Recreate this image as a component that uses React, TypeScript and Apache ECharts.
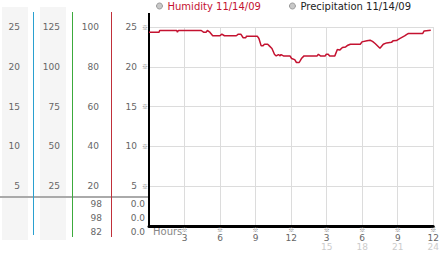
import React, { useEffect, useRef } from "react";
import * as echarts from "echarts";

// ---- data ----
const readingHours = [
  0, 0.85, 0.9, 2.34, 2.4,
  2.48, 4.41, 4.6, 4.83, 4.93,
  5.1, 5.38, 5.99, 6.15, 6.37,
  7.37, 7.54, 7.75, 7.95, 8.17,
  8.23, 9.14, 9.28, 9.47, 9.61,
  9.75, 10.02, 10.16, 10.38, 10.6,
  10.74, 10.93, 11.07, 11.15, 11.35,
  11.9, 12.04, 12.3, 12.45, 12.68,
  12.87, 13.09, 14.2, 14.3, 14.47,
  14.88, 14.97, 15.13, 15.25, 15.69,
  15.9, 16.1, 16.33, 16.6, 16.74,
  17.0, 17.84, 17.98, 18.4, 18.67,
  18.87, 19.09, 19.5, 19.78, 20.06,
  20.47, 20.6, 20.89, 21.16, 21.58,
  21.8, 21.9, 23.1, 23.23, 23.79,
];
const humidityValues = [
  24.35, 24.35, 24.56, 24.56, 24.35,
  24.56, 24.56, 24.35, 24.35, 24.56,
  24.4, 23.9, 23.9, 24.1, 23.9,
  23.9, 24.1, 24.1, 23.65, 23.65,
  23.85, 23.85, 23.55, 22.63, 22.63,
  22.84, 22.84, 22.63, 22.3, 21.54,
  21.37, 21.54, 21.37, 21.54, 21.37,
  21.37, 21.04, 20.9, 20.54, 20.54,
  21.04, 21.37, 21.37, 21.58, 21.37,
  21.37, 21.58, 21.58, 21.37, 21.37,
  22.17, 22.1, 22.42, 22.5, 22.67,
  22.84, 22.84, 23.13, 23.26, 23.34,
  23.2, 22.93, 22.34, 22.84, 23.0,
  23.07, 23.26, 23.3, 23.55, 23.88,
  24.1, 24.18, 24.18, 24.51, 24.6,
];
const precipitationValues: number[] = [];

const legendNames = ["Humidity 11/14/09", "Precipitation 11/14/09"];

// tick labels for y = 5,10,15,20,25
const mainTickLabels = ["5", "10", "15", "20", "25"];
const col1Labels = ["5", "10", "15", "20", "25"];
const col2Labels = ["25", "50", "75", "100", "125"];
const col3Labels = ["20", "40", "60", "80", "100"];

// x tick labels for hours 3..24
const hourLabels = ["3", "6", "9", "12", "3", "6", "9", "12"];
const hour24Labels = ["", "", "", "", "15", "18", "21", "24"];

// current-value table under the left panel
const tableLeftValues = ["98", "98", "82"];
const tableRightValues = ["0.0", "0.0", "0.0"];

const FONT = "DejaVu Sans";
const MARK_FONT = "Noto Sans CJK SC";
const MARK = "\u203B";

export default function App() {
  const ref = useRef<HTMLDivElement>(null);
  useEffect(() => {
    if (!ref.current) return;
    const chart = echarts.init(ref.current, null, { renderer: "svg" });
    const idx = (v: number) => Math.round(v / 5) - 1;
    const leftAxis = (offset: number, margin: number, labels: string[]) => ({
      type: "value",
      position: "left",
      offset,
      min: 0,
      max: 25,
      interval: 5,
      axisLine: { show: false },
      axisTick: { show: false },
      splitLine: { show: false },
      axisLabel: {
        margin,
        color: "#666",
        fontFamily: FONT,
        fontSize: 9,
        formatter: (v: number) => (v === 0 ? "" : labels[idx(v)] ?? ""),
      },
    });

    const tableTexts: any[] = [];
    const rowsY = [204, 218, 232];
    rowsY.forEach((y, i) => {
      tableTexts.push({
        type: "text",
        x: 102,
        y,
        style: {
          text: tableLeftValues[i],
          fill: "#666",
          font: `9px "${FONT}"`,
          textAlign: "right",
          textVerticalAlign: "middle",
        },
      });
      tableTexts.push({
        type: "text",
        x: 145,
        y,
        style: {
          text: tableRightValues[i],
          fill: "#666",
          font: `9px "${FONT}"`,
          textAlign: "right",
          textVerticalAlign: "middle",
        },
      });
    });

    chart.setOption({
      animation: false,
      textStyle: { fontFamily: FONT },
      legend: {
        left: 156,
        top: 1,
        padding: 0,
        itemWidth: 6,
        itemHeight: 6,
        itemGap: 28,
        icon: "circle",
        itemStyle: { color: "#c8c8c8", borderColor: "#999", borderWidth: 1 },
        data: [
          { name: legendNames[0], textStyle: { color: "#c41230" } },
          { name: legendNames[1], textStyle: { color: "#222" } },
        ],
        textStyle: { fontFamily: FONT, fontSize: 10 },
      },
      grid: { left: 149, right: 3, top: 27, bottom: 27 },
      xAxis: {
        type: "value",
        min: 0,
        max: 24,
        interval: 3,
        axisLine: { show: true, lineStyle: { color: "#000", width: 3 } },
        axisTick: { show: false },
        splitLine: { show: true, lineStyle: { color: "#dcdcdc", width: 1 } },
        axisLabel: {
          margin: 0,
          fontFamily: FONT,
          formatter: (v: number) => {
            if (v === 0) return "";
            const i = Math.round(v / 3) - 1;
            const s = `{t|${MARK}}\n{n|${hourLabels[i]}}`;
            return hour24Labels[i] ? `${s}\n{g|${hour24Labels[i]}}` : s;
          },
          rich: {
            t: { fontSize: 6, lineHeight: 7, color: "#777", fontFamily: MARK_FONT },
            n: { fontSize: 9, lineHeight: 9, color: "#666", fontFamily: FONT },
            g: { fontSize: 9, lineHeight: 10, color: "#ccc", fontFamily: FONT },
          },
        },
      },
      yAxis: [
        {
          type: "value",
          position: "left",
          min: 0,
          max: 25,
          interval: 5,
          axisLine: { show: true, lineStyle: { color: "#000", width: 2 } },
          axisTick: { show: false },
          splitLine: { show: true, lineStyle: { color: "#dcdcdc", width: 1 } },
          axisLabel: {
            margin: 1,
            fontFamily: FONT,
            formatter: (v: number) =>
              v === 0 ? "" : `{n|${mainTickLabels[idx(v)]}}{t|${MARK}}`,
            rich: {
              n: { fontSize: 9, color: "#666", fontFamily: FONT },
              t: { fontSize: 6, color: "#777", fontFamily: MARK_FONT, padding: [0, 0, 0, 5] },
            },
          },
        },
        leftAxis(38, 12, col3Labels),
        leftAxis(77, 12, col2Labels),
        leftAxis(116, 13, col1Labels),
      ],
      graphic: [
        { type: "rect", z: -10, shape: { x: 2, y: 7, width: 26, height: 233 }, style: { fill: "#f5f5f5" } },
        { type: "rect", z: -10, shape: { x: 40, y: 7, width: 26, height: 233 }, style: { fill: "#f5f5f5" } },
        { type: "line", shape: { x1: 0, y1: 197, x2: 149, y2: 197 }, style: { stroke: "#aaa", lineWidth: 2 } },
        { type: "line", shape: { x1: 33.5, y1: 12, x2: 33.5, y2: 235 }, style: { stroke: "#2aa0d0", lineWidth: 1 } },
        { type: "line", shape: { x1: 72.5, y1: 12, x2: 72.5, y2: 237 }, style: { stroke: "#3caa3c", lineWidth: 1 } },
        { type: "line", shape: { x1: 111.5, y1: 12, x2: 111.5, y2: 237 }, style: { stroke: "#c0303a", lineWidth: 1 } },
        { type: "line", shape: { x1: 149, y1: 13, x2: 149, y2: 28 }, style: { stroke: "#000", lineWidth: 2 } },
        {
          type: "text",
          x: 153,
          y: 231,
          style: { text: "Hours", fill: "#888", font: `10px "${FONT}"`, textVerticalAlign: "middle" },
        },
        ...tableTexts,
      ],
      series: [
        {
          name: legendNames[0],
          type: "line",
          yAxisIndex: 0,
          showSymbol: false,
          symbol: "none",
          lineStyle: { color: "#c41230", width: 1.5 },
          itemStyle: { color: "#c41230" },
          data: readingHours.map((h, i) => [h, humidityValues[i]]),
        },
        {
          name: legendNames[1],
          type: "line",
          yAxisIndex: 0,
          symbol: "none",
          lineStyle: { color: "#888", width: 1 },
          itemStyle: { color: "#888" },
          data: precipitationValues,
        },
      ],
    });
    return () => chart.dispose();
  }, []);
  return (
    <div
      ref={ref}
      style={{ position: "fixed", left: 0, top: 0, width: 442, height: 253, background: "#fff" }}
    />
  );
}
